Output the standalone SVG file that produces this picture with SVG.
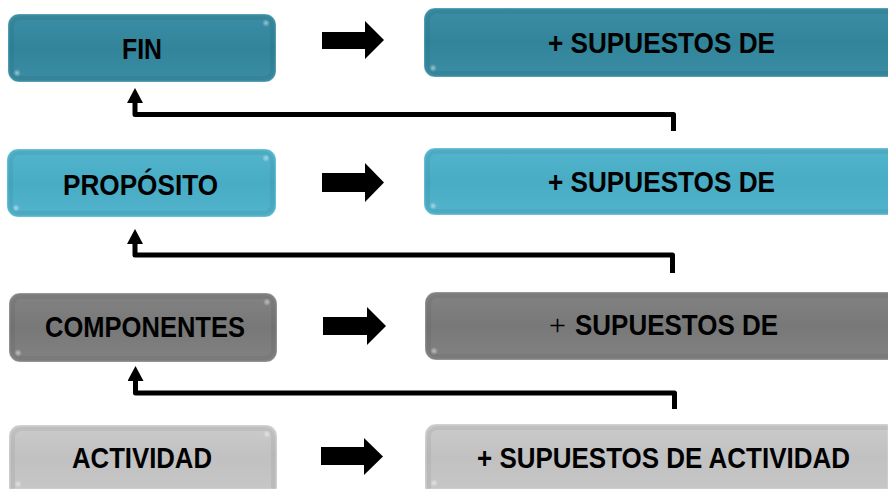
<svg xmlns="http://www.w3.org/2000/svg" width="888" height="489" viewBox="0 0 888 489">
<defs>
<linearGradient id="gTeal" x1="0" y1="0" x2="0" y2="1"><stop offset="0" stop-color="#3a8ea5"/><stop offset="0.5" stop-color="#32849a"/><stop offset="1" stop-color="#3a8da4"/></linearGradient>
<linearGradient id="gBlue" x1="0" y1="0" x2="0" y2="1"><stop offset="0" stop-color="#53b5cd"/><stop offset="0.5" stop-color="#48acc5"/><stop offset="1" stop-color="#52b4cc"/></linearGradient>
<linearGradient id="gGray" x1="0" y1="0" x2="0" y2="1"><stop offset="0" stop-color="#838383"/><stop offset="0.5" stop-color="#787878"/><stop offset="1" stop-color="#828282"/></linearGradient>
<linearGradient id="gLight" x1="0" y1="0" x2="0" y2="1"><stop offset="0" stop-color="#cbcbcb"/><stop offset="0.5" stop-color="#c1c1c1"/><stop offset="1" stop-color="#c6c6c6"/></linearGradient>
<radialGradient id="hl"><stop offset="0" stop-color="#ffffff" stop-opacity="0.5"/><stop offset="1" stop-color="#ffffff" stop-opacity="0"/></radialGradient>
<marker id="up" viewBox="0 0 15 16" refX="0" refY="8" markerWidth="15" markerHeight="16" markerUnits="userSpaceOnUse" orient="auto">
<path d="M0,0 L15,8 L0,16 Z" fill="#000"/>
</marker>
</defs>
<style>
.box{stroke:#ffffff;stroke-opacity:0.3;stroke-width:1}
.inner{fill:none;stroke:#000000;stroke-opacity:0.05;stroke-width:4}
.lbl{font-family:"Liberation Sans",Arial,sans-serif;font-weight:bold;font-size:30px;fill:#000}
.thin{font-family:"Liberation Serif","Times New Roman",serif;font-weight:normal;font-size:30px;fill:#000}
.conn{fill:none;stroke:#000;stroke-width:5;stroke-linejoin:round}
.blk{fill:#000}
</style>
<rect width="888" height="489" fill="#ffffff"/>

<g id="fin">
<rect class="box" x="8" y="14" width="268" height="68" rx="11" fill="url(#gTeal)"/>
<rect class="inner" x="12" y="18" width="260" height="60" rx="8"/>
<circle cx="266" cy="23" r="4" fill="url(#hl)"/><circle cx="17" cy="73" r="4" fill="url(#hl)"/>
<text class="lbl" x="122" y="59" textLength="40" lengthAdjust="spacingAndGlyphs">FIN</text>
</g>
<g id="sup-fin">
<rect class="box" x="424" y="8" width="480" height="69" rx="11" fill="url(#gTeal)"/>
<rect class="inner" x="428" y="12" width="470" height="61" rx="8"/>
<circle cx="433" cy="68" r="4" fill="url(#hl)"/>
<text class="lbl" x="548" y="53" textLength="227" lengthAdjust="spacingAndGlyphs">+ SUPUESTOS DE</text>
</g>

<g id="proposito">
<rect class="box" x="7" y="149" width="269" height="68" rx="11" fill="url(#gBlue)"/>
<rect class="inner" x="11" y="153" width="261" height="60" rx="8"/>
<circle cx="266" cy="158" r="4" fill="url(#hl)"/><circle cx="16" cy="208" r="4" fill="url(#hl)"/>
<text class="lbl" x="63" y="195" textLength="155" lengthAdjust="spacingAndGlyphs">PROPÓSITO</text>
</g>
<g id="sup-proposito">
<rect class="box" x="424" y="148" width="480" height="67" rx="11" fill="url(#gBlue)"/>
<rect class="inner" x="428" y="152" width="470" height="59" rx="8"/>
<circle cx="433" cy="206" r="4" fill="url(#hl)"/>
<text class="lbl" x="548" y="192" textLength="227" lengthAdjust="spacingAndGlyphs">+ SUPUESTOS DE</text>
</g>

<g id="componentes">
<rect class="box" x="9" y="293" width="268" height="69" rx="11" fill="url(#gGray)"/>
<rect class="inner" x="13" y="297" width="260" height="61" rx="8"/>
<circle cx="267" cy="302" r="4" fill="url(#hl)"/><circle cx="18" cy="353" r="4" fill="url(#hl)"/>
<text class="lbl" x="45" y="337" textLength="200" lengthAdjust="spacingAndGlyphs">COMPONENTES</text>
</g>
<g id="sup-componentes">
<rect class="box" x="425" y="292" width="480" height="68" rx="11" fill="url(#gGray)"/>
<rect class="inner" x="429" y="296" width="470" height="60" rx="8"/>
<circle cx="434" cy="351" r="4" fill="url(#hl)"/>
<text class="thin" x="549" y="335">+</text>
<text class="lbl" x="575" y="335" textLength="203" lengthAdjust="spacingAndGlyphs">SUPUESTOS DE</text>
</g>

<g id="actividad">
<path class="box" d="M9,489 V436 A11,11 0 0 1 20,425 H266 A11,11 0 0 1 277,436 V489 Z" fill="url(#gLight)"/>
<path class="inner" d="M13,489 V437 A8,8 0 0 1 21,429 H265 A8,8 0 0 1 273,437 V489"/>
<circle cx="267" cy="434" r="4" fill="url(#hl)"/><circle cx="18" cy="484" r="4" fill="url(#hl)"/>
<text class="lbl" x="72" y="468" textLength="140" lengthAdjust="spacingAndGlyphs">ACTIVIDAD</text>
</g>
<g id="sup-actividad">
<path class="box" d="M425,489 V435 A11,11 0 0 1 436,424 H888 V489 Z" fill="url(#gLight)"/>
<path class="inner" d="M429,489 V436 A8,8 0 0 1 437,428 H888"/>
<circle cx="434" cy="483" r="4" fill="url(#hl)"/>
<text class="lbl" x="477" y="468" textLength="373" lengthAdjust="spacingAndGlyphs">+ SUPUESTOS DE ACTIVIDAD</text>
</g>

<g id="connectors">
<path class="blk" d="M322,32 H365 V21 L384,40 L365,59 V49 H322 Z"/>
<path class="blk" d="M322,173 H365 V163 L384,182.5 L365,202 V192 H322 Z"/>
<path class="blk" d="M323,317 H367 V307 L386,326 L367,345 V335 H323 Z"/>
<path class="blk" d="M321,447 H364 V438 L383,456.5 L364,475 V465 H321 Z"/>
<path class="conn" d="M673.5,131 V114.5 H135 V103" marker-end="url(#up)"/>
<path class="conn" d="M672.5,273 V255 H135 V244" marker-end="url(#up)"/>
<path class="conn" d="M674.5,409 V393 H135.5 V381" marker-end="url(#up)"/>
</g>
</svg>
